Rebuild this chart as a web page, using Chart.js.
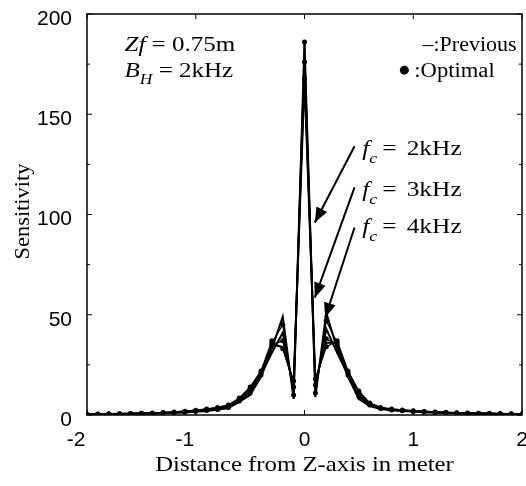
<!DOCTYPE html>
<html><head><meta charset="utf-8">
<script src="https://cdn.jsdelivr.net/npm/chart.js@4/dist/chart.umd.min.js"></script>
<style>html,body{margin:0;padding:0;background:#fff}#wrap{width:526px;height:486px}</style>
</head><body><div id="wrap"><canvas id="c" width="526" height="486"></canvas></div>
<script>
const xValues = [-2.0,-1.9,-1.8,-1.7,-1.6,-1.5,-1.4,-1.3,-1.2,-1.1,-1.0,-0.9,-0.8,-0.7,-0.6,-0.5,-0.4,-0.3,-0.2,-0.1,0,0.1,0.2,0.3,0.4,0.5,0.6,0.7,0.8,0.9,1.0,1.1,1.2,1.3,1.4,1.5,1.6,1.7,1.8,1.9,2.0];
const prev2k = [0.4,0.4,0.5,0.5,0.6,0.7,0.8,0.9,1.1,1.3,1.6,2.0,2.6,3.5,6.5,10,19,33,49,8,186,9,51,33,19,8,4.5,3,2.4,2,1.7,1.4,1.2,1.0,0.9,0.8,0.7,0.6,0.5,0.5,0.4];
const prev3k = [0.4,0.4,0.5,0.5,0.6,0.7,0.8,1.0,1.2,1.5,1.9,2.4,3.0,4.0,7.5,12,20,31,41,12,176,13,43,31,20,10,5,3.2,2.6,2.2,1.8,1.5,1.3,1.1,0.9,0.8,0.7,0.6,0.5,0.5,0.4];
const prev4k = [0.4,0.5,0.5,0.6,0.7,0.8,0.9,1.1,1.4,1.8,2.3,2.8,3.5,4.6,8,13,21,35,34,16,167,17,36,36,21,11,5.5,3.5,2.8,2.4,2.0,1.7,1.4,1.2,1.0,0.9,0.8,0.7,0.6,0.5,0.5];
const opt2k = [0.3,0.4,0.4,0.5,0.6,0.7,0.8,1.0,1.2,1.4,1.8,2.2,2.8,3.8,7,11,20,36,45,10,186,11,47,36,20,9,5,3.2,2.5,2.1,1.8,1.5,1.3,1.1,0.9,0.8,0.7,0.6,0.5,0.4,0.4];
const opt3k = [0.4,0.4,0.5,0.6,0.7,0.8,0.9,1.1,1.3,1.7,2.1,2.6,3.2,4.3,8,13,21,35,37,14,176,15,38,35,21,11,5.5,3.5,2.8,2.3,1.9,1.6,1.4,1.2,1.0,0.9,0.8,0.7,0.6,0.5,0.4];
const opt4k = [0.4,0.5,0.6,0.6,0.7,0.9,1.0,1.2,1.5,1.9,2.4,3.0,3.8,5,8.5,14,22,37,33,17,168,18,34,37,22,12,6,3.8,3.0,2.5,2.1,1.8,1.5,1.3,1.1,1.0,0.9,0.8,0.7,0.6,0.5];
const xTicks = [-2,-1,0,1,2];
const yTicks = [0,50,100,150,200];
const xTitle = 'Distance from Z-axis in meter';
const yTitle = 'Sensitivity';

const pts = arr => arr.map((v,i)=>({x:xValues[i], y:v}));
const lineDs = (arr) => ({data:pts(arr), borderColor:'#000', borderWidth:2, pointRadius:0, fill:false, tension:0});
const dotDs = (arr) => ({data:pts(arr), borderColor:'#000', backgroundColor:'#000', borderWidth:1.3, pointRadius:2.5, pointBorderWidth:0, fill:false, tension:0});

const serif = '"Liberation Serif", "Times New Roman", serif';
const sans = '"Liberation Sans", Arial, sans-serif';

const annot = {
  id:'annot',
  afterDraw(chart){
    const ctx = chart.ctx, xs = chart.scales.x, ys = chart.scales.y, a = chart.chartArea;
    ctx.save();
    ctx.strokeStyle='#000'; ctx.lineWidth=1.5;
    ctx.strokeRect(a.left, a.top, a.right-a.left, a.bottom-a.top);
    ctx.lineWidth=1;
    ctx.beginPath();
    yTicks.forEach(v=>{const y=ys.getPixelForValue(v); ctx.moveTo(a.left,y); ctx.lineTo(a.left+5,y); ctx.moveTo(a.right,y); ctx.lineTo(a.right-5,y);});
    [25,75,125,175].forEach(v=>{const y=ys.getPixelForValue(v); ctx.moveTo(a.left,y); ctx.lineTo(a.left+3,y); ctx.moveTo(a.right,y); ctx.lineTo(a.right-3,y);});
    xTicks.forEach(v=>{const x=xs.getPixelForValue(v); ctx.moveTo(x,a.bottom); ctx.lineTo(x,a.bottom-5); ctx.moveTo(x,a.top); ctx.lineTo(x,a.top+5);});
    ctx.stroke();
    ctx.fillStyle='#000';
    ctx.font='21px '+sans; ctx.textBaseline='middle'; ctx.textAlign='right';
    yTicks.forEach(v=>{ctx.fillText(String(v), a.left-15, ys.getPixelForValue(v)+5);});
    ctx.textAlign='center';
    xTicks.forEach(v=>{ctx.fillText(String(v), xs.getPixelForValue(v)+(v<0?-11:0), a.bottom+25);});
    ctx.textBaseline='alphabetic';
    ctx.save(); ctx.translate((a.left+a.right)/2, a.bottom+56); ctx.scale(1.18,1);
    ctx.font='21px '+serif; ctx.fillText(xTitle,0,0); ctx.restore();
    ctx.save(); ctx.translate(29, (a.top+a.bottom)/2-3); ctx.rotate(-Math.PI/2); ctx.scale(1.12,1);
    ctx.font='20px '+serif; ctx.fillText(yTitle,0,0); ctx.restore();
    ctx.textAlign='left';
    const P=(x,y)=>[xs.getPixelForValue(x), ys.getPixelForValue(y)];
    function txt(parts, x, y, sx){
      ctx.save(); ctx.translate(x,y); ctx.scale(sx||1.25,1);
      let cx=0;
      parts.forEach(p=>{
        ctx.font = (p.i?'italic ':'') + (p.s||20)+'px '+serif;
        ctx.fillText(p.t, cx, (p.dy||0));
        cx += ctx.measureText(p.t).width + (p.gap||0);
      });
      ctx.restore();
    }
    let tx, ty;
    [tx,ty] = P(-1.655, 181.5);
    txt([{t:'Zf',i:1},{t:' = 0.75m'}], tx, ty);
    [tx,ty] = P(-1.655, 168.5);
    txt([{t:'B',i:1},{t:'H',i:1,s:14,dy:7},{t:' = 2kHz'}], tx, ty);
    [tx,ty] = P(1.085, 181.5);
    txt([{t:'\u2013:Previous'}], tx, ty, 1.1);
    [tx,ty] = P(1.01, 168.5);
    txt([{t:':Optimal'}], tx, ty, 1.13);
    ctx.beginPath(); ctx.arc(tx-10, ty-7, 4.5, 0, Math.PI*2); ctx.fill();
    const labels=[['2kHz',129.5],['3kHz',109],['4kHz',91]];
    labels.forEach(([k,v])=>{
      const [lx,ly]=P(0.53,v);
      txt([{t:'f',i:1},{t:'c',i:1,s:14,dy:8,gap:4},{t:'=',gap:3},{t:' '+k}], lx, ly, 1.27);
    });
    function arrow(x1,y1,x2,y2){
      const [ax,ay]=P(x1,y1), [bx,by]=P(x2,y2);
      ctx.lineWidth=2; ctx.beginPath(); ctx.moveTo(ax,ay); ctx.lineTo(bx,by); ctx.stroke();
      const ang=Math.atan2(by-ay,bx-ax), L=15, W=6;
      ctx.beginPath(); ctx.moveTo(bx,by);
      ctx.lineTo(bx-L*Math.cos(ang)+W*Math.sin(ang), by-L*Math.sin(ang)-W*Math.cos(ang));
      ctx.lineTo(bx-L*Math.cos(ang)-W*Math.sin(ang), by-L*Math.sin(ang)+W*Math.cos(ang));
      ctx.closePath(); ctx.fill();
    }
    arrow(0.46,134,0.095,96);
    arrow(0.46,113.5,0.095,58.5);
    arrow(0.46,93.5,0.19,48.5);
    ctx.restore();
  }
};

new Chart(document.getElementById('c'), {
  type:'line',
  data:{datasets:[lineDs(prev2k), lineDs(prev3k), lineDs(prev4k), dotDs(opt2k), dotDs(opt3k), dotDs(opt4k)]},
  plugins:[annot],
  options:{
    responsive:false, animation:false, devicePixelRatio:1,
    layout:{padding:{top:14,right:4,left:0,bottom:0}},
    plugins:{legend:{display:false}, tooltip:{enabled:false}},
    scales:{
      x:{type:'linear', min:-2, max:2,
        afterFit(s){s.height=71; s.paddingLeft=0; s.paddingRight=0;},
        grid:{display:false, drawTicks:false}, border:{display:false},
        ticks:{display:false}, title:{display:false}
      },
      y:{min:0, max:200,
        afterFit(s){s.width=87; s.paddingTop=0; s.paddingBottom=0;},
        grid:{display:false, drawTicks:false}, border:{display:false},
        ticks:{display:false}, title:{display:false}
      }
    }
  }
});
</script></body></html>
